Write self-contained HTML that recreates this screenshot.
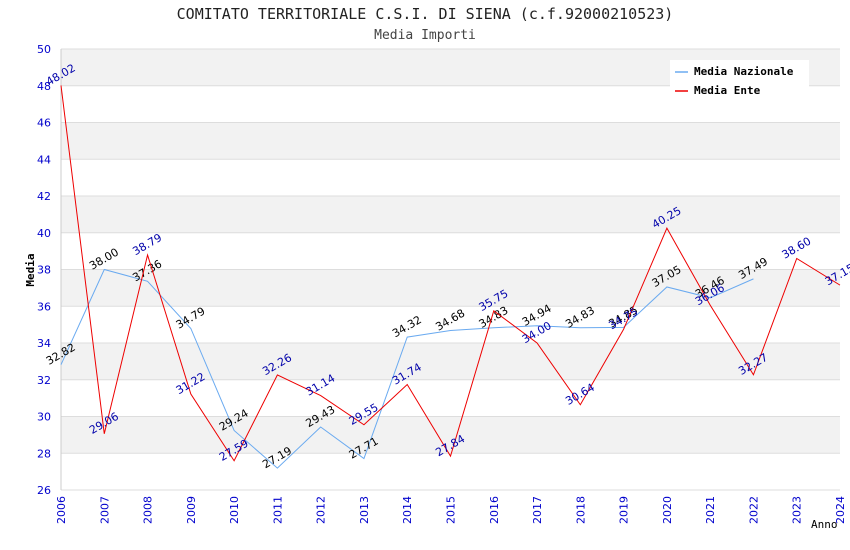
<!DOCTYPE html>
<html><head><meta charset="utf-8"><style>
body{margin:0;background:#fff}
svg{display:block;font-family:"DejaVu Sans","Liberation Sans",sans-serif}
.mono{font-family:"DejaVu Sans Mono","Liberation Mono",monospace}
</style></head><body>
<svg id="chart" width="850" height="550">
<text class="mono" x="425" y="19" text-anchor="middle" font-size="15" fill="#222">COMITATO TERRITORIALE C.S.I. DI SIENA (c.f.92000210523)</text>
<text class="mono" x="425" y="39" text-anchor="middle" font-size="13" fill="#444">Media Importi</text>
<text class="mono" transform="translate(34,270) rotate(-90)" text-anchor="middle" font-size="11" font-weight="bold" fill="#000">Media</text>
<text class="mono" x="811" y="528" font-size="11" fill="#000">Anno</text>
<g id="grid"></g><g id="series"></g>
<g>
<rect x="670" y="60" width="139" height="40" fill="#fff"/>
<line x1="675" y1="72" x2="688" y2="72" stroke="#6aaaf0" stroke-width="1.5"/>
<text class="mono" x="694" y="75" font-size="11" font-weight="bold">Media Nazionale</text>
<line x1="675" y1="91" x2="688" y2="91" stroke="#e00" stroke-width="1.5"/>
<text class="mono" x="694" y="94" font-size="11" font-weight="bold">Media Ente</text>
</g>
</svg>
<script>
const years=[2006,2007,2008,2009,2010,2011,2012,2013,2014,2015,2016,2017,2018,2019,2020,2021,2022,2023,2024];
const nazionale=[32.82,38.00,37.36,34.79,29.24,27.19,29.43,27.71,34.32,34.68,34.83,34.94,34.83,34.85,37.05,36.46,37.49];
const ente=[48.02,29.06,38.79,31.22,27.59,32.26,31.14,29.55,31.74,27.84,35.75,34.00,30.64,34.75,40.25,36.06,32.27,38.60,37.15];
const yTicks=[26,28,30,32,34,36,38,40,42,44,46,48,50];
const X0=61,X1=840,Y0=490,Y1=49,ymin=26,ymax=50;
const xs=i=>X0+(X1-X0)*i/(years.length-1);
const ys=v=>Y0-(v-ymin)/(ymax-ymin)*(Y0-Y1);
const NS="http://www.w3.org/2000/svg";
const grid=document.getElementById('grid'),ser=document.getElementById('series');
function mk(p,t,a){const e=document.createElementNS(NS,t);for(const k in a)e.setAttribute(k,a[k]);p.appendChild(e);return e;}
for(let i=0;i<yTicks.length-1;i++){
  if(i%2===1){const r=mk(grid,'rect',{x:X0,y:ys(yTicks[i+1]),width:X1-X0,height:ys(yTicks[i])-ys(yTicks[i+1]),fill:'#f2f2f2'});
  
  }
}
yTicks.forEach(v=>{
  const l=mk(grid,'line',{x1:X0,x2:X1,y1:ys(v),y2:ys(v),stroke:'#ddd'});
  
  
  const t=mk(grid,'text',{x:X0-10,y:ys(v)+4,'text-anchor':'end','font-size':11,fill:'#00c'});t.textContent=v;
  
  
});
const ax=mk(grid,'line',{x1:X0,x2:X0,y1:Y1,y2:Y0,stroke:'#ccc'});


years.forEach((y,i)=>{
  const t=mk(grid,'text',{transform:`translate(${xs(i)+4},${Y0+6}) rotate(-90)`,'text-anchor':'end','font-size':11,fill:'#00c'});t.textContent=y;
  
  
});
function draw(data,color,lab,name){
  const p=mk(ser,'polyline',{points:data.map((v,i)=>xs(i)+','+ys(v)).join(' '),fill:'none',stroke:color,'stroke-width':1});
  
  
  data.forEach((v,i)=>{
    const t=mk(ser,'text',{transform:`translate(${xs(i)},${ys(v)-10}) rotate(-30)`,'text-anchor':'middle','dominant-baseline':'middle','font-size':11,fill:lab});
    t.textContent=v.toFixed(2);
    
    
  });
}
draw(nazionale,'#6aaaf0','#000','nazionale');
draw(ente,'#e00','#00a','ente');
</script>
</body></html>
